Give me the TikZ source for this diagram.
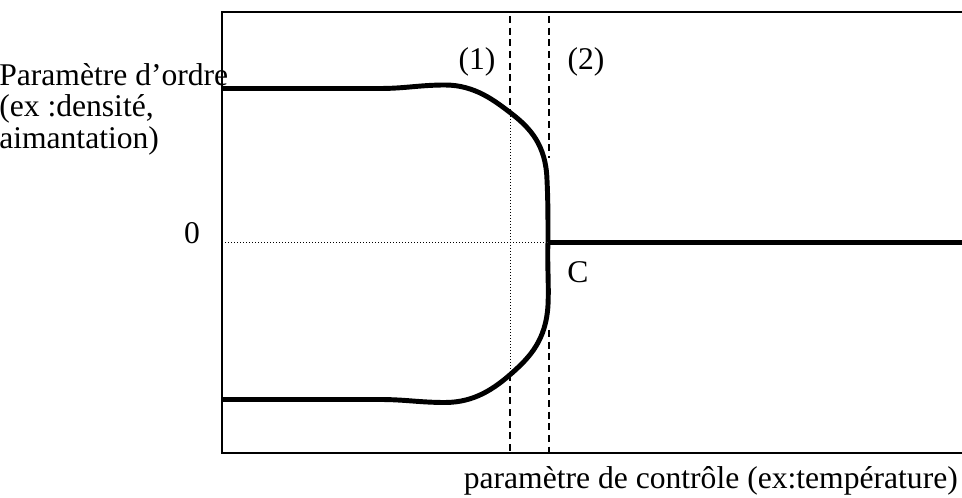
\documentclass[tikz,border=0pt]{standalone}
\usepackage{fontspec}
\setmainfont{Liberation Serif}
\begin{document}
\begin{tikzpicture}[x=0.75pt,y=-0.75pt,
  frame/.style={line width=1.4pt},
  thick curve/.style={line width=3.7pt,line join=round},
  dashline/.style={line width=1.1pt,dash pattern=on 5.25pt off 3.5pt},
  dotline/.style={line width=0.75pt,dash pattern=on 0.75pt off 1.5pt},
  lbl/.style={inner sep=0pt,font=\fontsize{23.7}{23.8}\selectfont}]
\useasboundingbox (0,0) rectangle (962,498);
% frame
\draw[frame] (962,12) -- (222,12) -- (222,453) -- (962,453);
% dashed verticals
\draw[dashline] (510,16) -- (510,113);
\draw[dashline] (510,374) -- (510,453);
\draw[dotline] (510,113) -- (510,374);
\draw[dashline] (549,16) -- (549,158);
\draw[dashline] (549,330) -- (549,453);
% zero dotted
\draw[dotline] (222,242.5) -- (548,242.5);
% curves
\draw[thick curve] (222,88.5) -- (380,88.5) .. controls (405,88.5) and (420,85) .. (445,85)
  .. controls (475,85) and (495,101) .. (512,114)
  .. controls (530,128) and (546,145) .. (547,180)
  .. controls (548,200) and (548,220) .. (548,242.5);
\draw[thick curve] (222,399.5) -- (380,399.5) .. controls (405,399.5) and (420,402.5) .. (445,402.5)
  .. controls (475,402.5) and (495,388) .. (512,373)
  .. controls (530,357) and (546,340) .. (548,305)
  .. controls (549,285) and (547,260) .. (548,242.5);
\draw[thick curve] (548,242.5) -- (962,242.5);
% labels
\node[lbl,align=left,anchor=north west] (ylab) at (-1,63) {Paramètre d’ordre\\(ex :densité,\\aimantation)};
\node[lbl,anchor=base] (zero) at (192,244) {0};
\node[lbl] (one) at (477,62) {(1)};
\node[lbl] (two) at (586,62) {(2)};
\node[lbl] (c) at (578,272) {C};
\node[lbl,anchor=base east] (xlab) at (958,488) {paramètre de contrôle (ex:température)};
\end{tikzpicture}
\end{document}
